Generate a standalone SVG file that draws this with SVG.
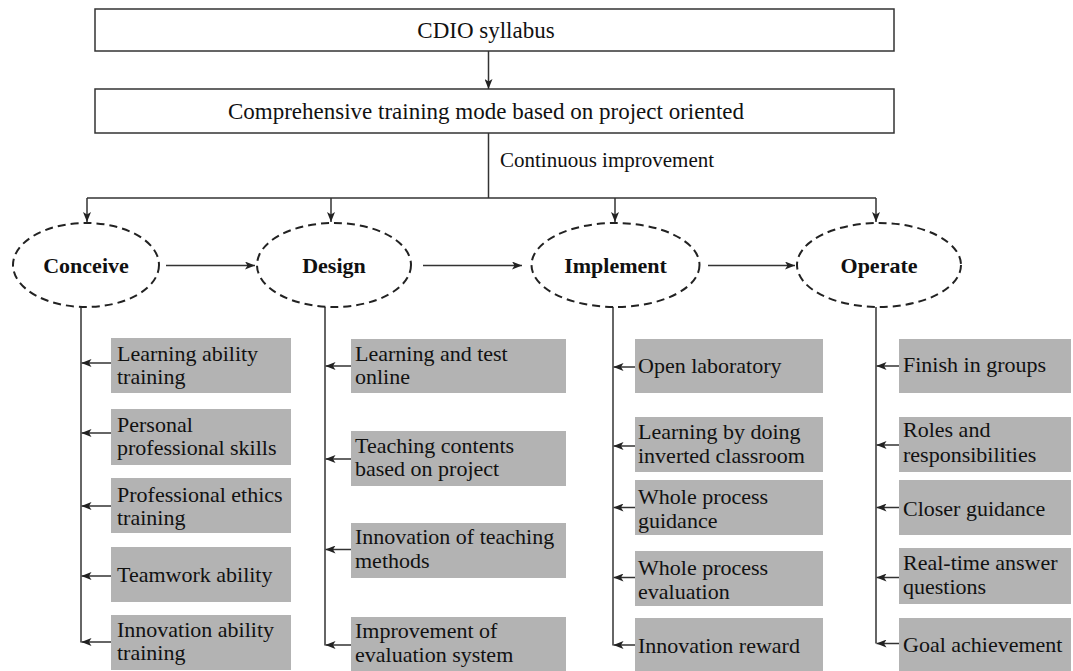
<svg xmlns="http://www.w3.org/2000/svg" width="1073" height="671" viewBox="0 0 1073 671">
  <style>
    .box { fill: #ffffff; stroke: #333333; stroke-width: 1.5; }
    .phase { fill: #ffffff; stroke: #222222; stroke-width: 2; stroke-dasharray: 8 5; }
    .item { fill: #b3b3b3; }
    .t { font-family: "Liberation Serif", "Times New Roman", serif; font-size: 22px; fill: #111111; }
    .big { font-size: 23px; }
    .small { font-size: 21px; }
    .tb { font-family: "Liberation Serif", "Times New Roman", serif; font-size: 22px; font-weight: bold; fill: #111111; }
    .ln { fill: none; stroke: #333333; stroke-width: 1.5; }
    .arr { fill: none; stroke: #333333; stroke-width: 1.5; marker-end: url(#head); }
  </style>
  <defs>
    <marker id="head" viewBox="0 0 10 8" refX="10" refY="4" markerWidth="10" markerHeight="8" markerUnits="userSpaceOnUse" orient="auto">
      <path d="M0,0 L10,4 L0,8 L2.5,4 z" fill="#222222"/>
    </marker>
  </defs>

  <rect width="1073" height="671" fill="#ffffff"/>

  <!-- connectors -->
  <g id="connectors">
    <line class="arr" x1="488.5" y1="51" x2="488.5" y2="89"/>
    <line class="ln" x1="488.5" y1="133" x2="488.5" y2="198"/>
    <line class="ln" x1="87" y1="198" x2="876" y2="198"/>
    <line class="arr" x1="87" y1="198" x2="87" y2="222"/>
    <line class="arr" x1="331" y1="198" x2="331" y2="222"/>
    <line class="arr" x1="615" y1="198" x2="615" y2="222"/>
    <line class="arr" x1="876" y1="198" x2="876" y2="222"/>

    <line class="arr" x1="166" y1="265.5" x2="255" y2="265.5"/>
    <line class="arr" x1="423" y1="265.5" x2="522" y2="265.5"/>
    <line class="arr" x1="708" y1="265.5" x2="795" y2="265.5"/>

    <!-- Conceive branch -->
    <line class="ln" x1="81" y1="306" x2="81" y2="642.5"/>
    <line class="arr" x1="111" y1="363" x2="81.5" y2="363"/>
    <line class="arr" x1="111" y1="433" x2="81.5" y2="433"/>
    <line class="arr" x1="111" y1="506" x2="81.5" y2="506"/>
    <line class="arr" x1="111" y1="576" x2="81.5" y2="576"/>
    <line class="arr" x1="111" y1="642" x2="81.5" y2="642"/>

    <!-- Design branch -->
    <line class="ln" x1="325" y1="307" x2="325" y2="645.5"/>
    <line class="arr" x1="351" y1="366" x2="325.5" y2="366"/>
    <line class="arr" x1="351" y1="459" x2="325.5" y2="459"/>
    <line class="arr" x1="351" y1="549.5" x2="325.5" y2="549.5"/>
    <line class="arr" x1="351" y1="645" x2="325.5" y2="645"/>

    <!-- Implement branch -->
    <line class="ln" x1="613" y1="307" x2="613" y2="645.5"/>
    <line class="arr" x1="635" y1="367" x2="613.5" y2="367"/>
    <line class="arr" x1="635" y1="446" x2="613.5" y2="446"/>
    <line class="arr" x1="635" y1="507.5" x2="613.5" y2="507.5"/>
    <line class="arr" x1="635" y1="577.5" x2="613.5" y2="577.5"/>
    <line class="arr" x1="635" y1="645" x2="613.5" y2="645"/>

    <!-- Operate branch -->
    <line class="ln" x1="876" y1="307" x2="876" y2="643.5"/>
    <line class="arr" x1="899" y1="366" x2="876.5" y2="366"/>
    <line class="arr" x1="899" y1="445" x2="876.5" y2="445"/>
    <line class="arr" x1="899" y1="507.5" x2="876.5" y2="507.5"/>
    <line class="arr" x1="899" y1="577.5" x2="876.5" y2="577.5"/>
    <line class="arr" x1="899" y1="643.5" x2="876.5" y2="643.5"/>

    <text class="t small" x="500" y="167">Continuous improvement</text>
  </g>

  <!-- top boxes -->
  <g id="syllabus">
    <rect class="box" x="95" y="9" width="799" height="42"/>
    <text class="t big" x="486" y="38" text-anchor="middle">CDIO syllabus</text>
  </g>
  <g id="training-mode">
    <rect class="box" x="95" y="89" width="799" height="44"/>
    <text class="t big" x="486" y="119" text-anchor="middle">Comprehensive training mode based on project oriented</text>
  </g>

  <!-- phases -->
  <g id="conceive">
    <ellipse class="phase" cx="86" cy="265" rx="73" ry="42"/>
    <text class="tb" x="86" y="273" text-anchor="middle">Conceive</text>
  </g>
  <g id="design">
    <ellipse class="phase" cx="334" cy="265" rx="77" ry="42"/>
    <text class="tb" x="334" y="273" text-anchor="middle">Design</text>
  </g>
  <g id="implement">
    <ellipse class="phase" cx="615.5" cy="265" rx="84" ry="42"/>
    <text class="tb" x="615.5" y="273" text-anchor="middle">Implement</text>
  </g>
  <g id="operate">
    <ellipse class="phase" cx="879" cy="265" rx="82" ry="42"/>
    <text class="tb" x="879" y="273" text-anchor="middle">Operate</text>
  </g>

  <!-- Conceive items -->
  <g id="c1"><rect class="item" x="111" y="338" width="180" height="55"/>
    <text class="t" x="117" y="361">Learning ability</text><text class="t" x="117" y="384">training</text></g>
  <g id="c2"><rect class="item" x="111" y="409" width="180" height="56"/>
    <text class="t" x="117" y="432">Personal</text><text class="t" x="117" y="455">professional skills</text></g>
  <g id="c3"><rect class="item" x="111" y="478" width="180" height="55"/>
    <text class="t" x="117" y="502">Professional ethics</text><text class="t" x="117" y="525">training</text></g>
  <g id="c4"><rect class="item" x="111" y="547" width="180" height="55"/>
    <text class="t" x="117" y="582">Teamwork ability</text></g>
  <g id="c5"><rect class="item" x="111" y="615" width="180" height="55"/>
    <text class="t" x="117" y="637">Innovation ability</text><text class="t" x="117" y="660">training</text></g>

  <!-- Design items -->
  <g id="d1"><rect class="item" x="351" y="339" width="215" height="54"/>
    <text class="t" x="355" y="361">Learning and test</text><text class="t" x="355" y="384">online</text></g>
  <g id="d2"><rect class="item" x="351" y="431" width="215" height="55"/>
    <text class="t" x="355" y="453">Teaching contents</text><text class="t" x="355" y="476">based on project</text></g>
  <g id="d3"><rect class="item" x="351" y="523" width="215" height="55"/>
    <text class="t" x="355" y="544">Innovation of teaching</text><text class="t" x="355" y="568">methods</text></g>
  <g id="d4"><rect class="item" x="351" y="617" width="215" height="54"/>
    <text class="t" x="355" y="638">Improvement of</text><text class="t" x="355" y="662">evaluation system</text></g>

  <!-- Implement items -->
  <g id="i1"><rect class="item" x="635" y="339" width="188" height="54"/>
    <text class="t" x="638" y="373">Open laboratory</text></g>
  <g id="i2"><rect class="item" x="635" y="417" width="188" height="55"/>
    <text class="t" x="638" y="439">Learning by doing</text><text class="t" x="638" y="463">inverted classroom</text></g>
  <g id="i3"><rect class="item" x="635" y="480" width="188" height="55"/>
    <text class="t" x="638" y="504">Whole process</text><text class="t" x="638" y="528">guidance</text></g>
  <g id="i4"><rect class="item" x="635" y="551" width="188" height="55"/>
    <text class="t" x="638" y="575">Whole process</text><text class="t" x="638" y="599">evaluation</text></g>
  <g id="i5"><rect class="item" x="635" y="618" width="188" height="53"/>
    <text class="t" x="638" y="653">Innovation reward</text></g>

  <!-- Operate items -->
  <g id="o1"><rect class="item" x="899" y="339" width="172" height="54"/>
    <text class="t" x="903" y="372">Finish in groups</text></g>
  <g id="o2"><rect class="item" x="899" y="417" width="172" height="55"/>
    <text class="t" x="903" y="437">Roles and</text><text class="t" x="903" y="462">responsibilities</text></g>
  <g id="o3"><rect class="item" x="899" y="480" width="172" height="55"/>
    <text class="t" x="903" y="516">Closer guidance</text></g>
  <g id="o4"><rect class="item" x="899" y="548" width="172" height="56"/>
    <text class="t" x="903" y="570">Real-time answer</text><text class="t" x="903" y="594">questions</text></g>
  <g id="o5"><rect class="item" x="899" y="618" width="172" height="53"/>
    <text class="t" x="903" y="652">Goal achievement</text></g>
</svg>
